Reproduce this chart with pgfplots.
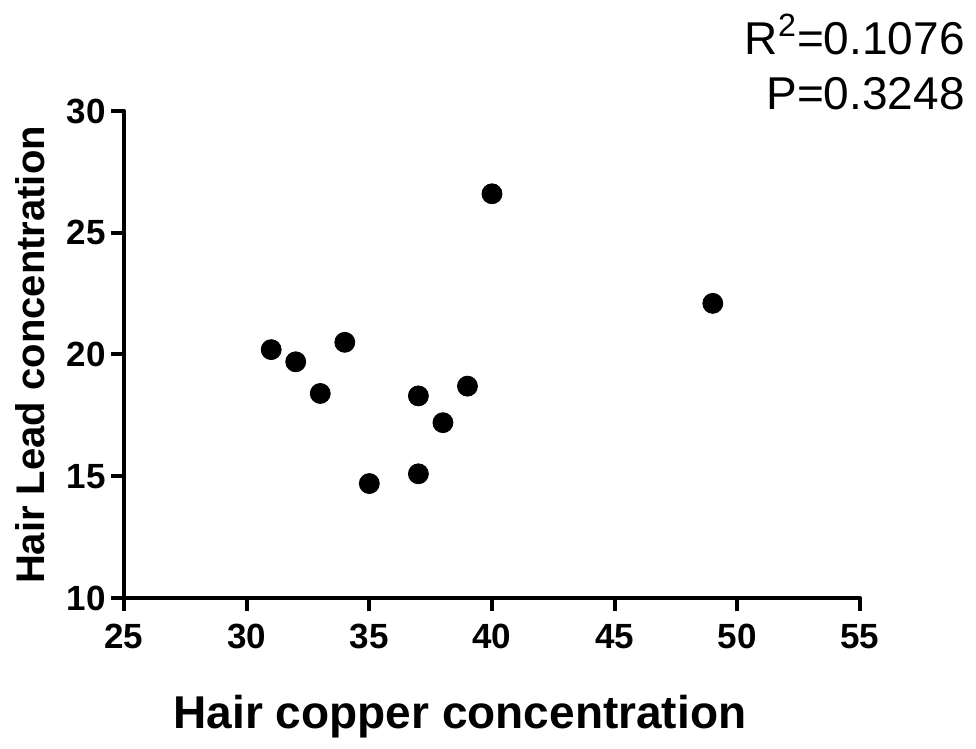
\documentclass[border=0pt]{standalone}
\usepackage{fontspec}
\setmainfont{Liberation Sans}
\usepackage{pgfplots}
\pgfplotsset{compat=1.18}

\begin{document}
\begin{tikzpicture}
\begin{axis}[
    scale only axis,
    width=368pt,
    height=243.5pt,
    xmin=25, xmax=55,
    ymin=10, ymax=30,
    xtick={25,30,...,55},
    ytick={10,15,...,30},
    axis lines*=left,
    axis line style={line width=2pt, line cap=round},
    every tick/.style={black, line width=2pt},
    tick align=outside,
    major tick length=6.5pt,
    tick label style={font=\fontsize{17.5}{20}\selectfont\bfseries},
    /pgf/number format/assume math mode=true,
    xticklabel style={yshift=-3pt},
    yticklabel style={xshift=1pt},
    clip=false,
]
\addplot[only marks, mark=*, mark size=5pt, black] coordinates {
    (31,20.2) (32,19.7) (33,18.4) (34,20.5) (35,14.7)
    (37,18.3) (37,15.1) (38,17.2) (39,18.7) (40,26.6) (49,22.1)
};
\node[font=\fontsize{23}{26}\selectfont\bfseries] at (axis description cs:0.4565,-0.2444) {Hair copper concentration};
\node[font=\fontsize{20}{24}\selectfont\bfseries, rotate=90] at (axis description cs:-0.1277,0.499) {Hair Lead concentration};
\node[font=\fontsize{23}{26}\selectfont, anchor=base east, inner sep=0pt] at (axis description cs:1.1427,1.115) {R\textsuperscript{2}=0.1076};
\node[font=\fontsize{23}{26}\selectfont, anchor=base east, inner sep=0pt] at (axis description cs:1.1427,1.004) {P=0.3248};
\end{axis}
\pgfresetboundingbox
\path (-62pt,-75.5pt) rectangle (426pt,299pt);
\end{tikzpicture}
\end{document}
